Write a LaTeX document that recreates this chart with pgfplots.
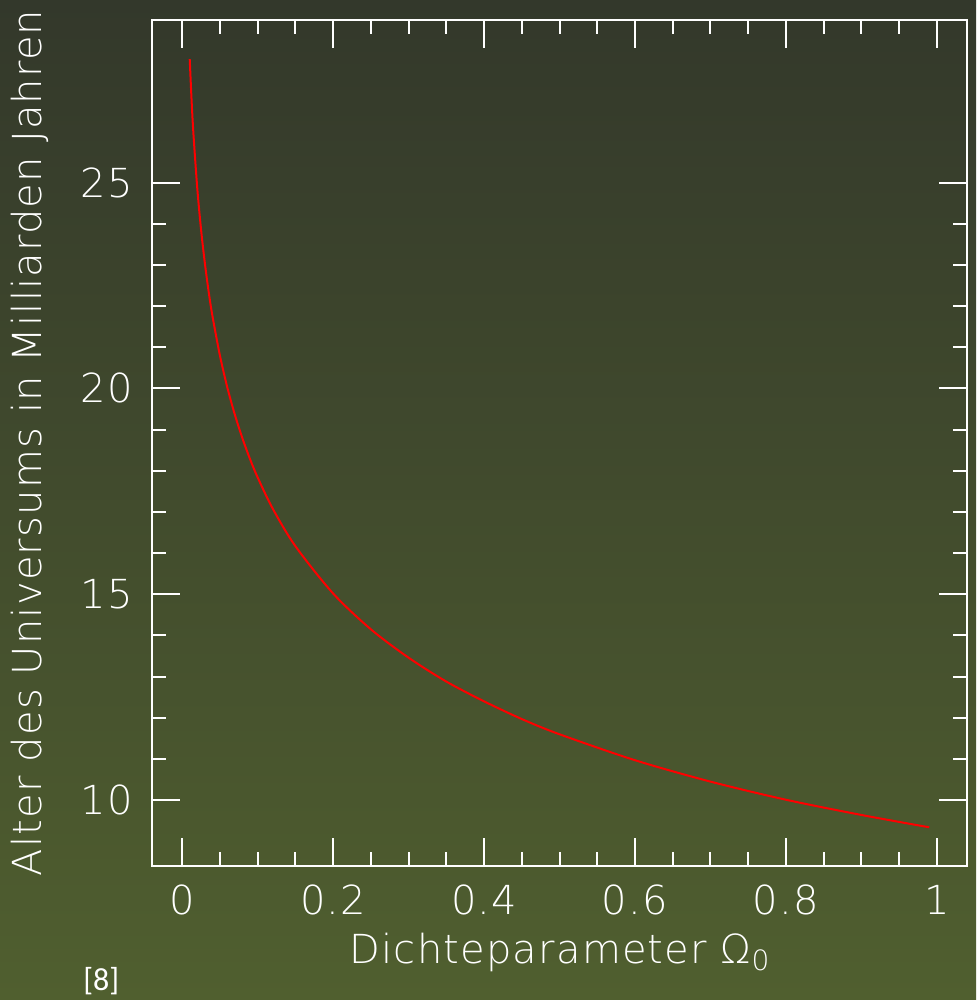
\documentclass[border=0pt]{standalone}
\usepackage{fontspec}
\setmainfont{DejaVu Sans ExtraLight}[LetterSpace=3]
\newfontfamily\refont{Carlito}
\usepackage{pgfplots}
\pgfplotsset{compat=1.18}
\definecolor{bgtop}{RGB}{51,56,43}
\definecolor{bgbot}{RGB}{80,95,47}
\begin{document}
\begin{tikzpicture}
\shade[top color=bgtop, bottom color=bgbot] (-76pt,-67pt) rectangle (412pt,433pt);
\begin{axis}[
  at={(0,0)}, anchor=south west,
  scale only axis, width=407.5pt, height=423pt,
  xmin=-0.04, xmax=1.04, ymin=8.4, ymax=28.95,
  axis line style={white, line width=1pt},
  every tick/.style={white, line width=1pt},
  tick align=inside,
  major tick length=14pt, minor tick length=7pt,
  xtick={0,0.2,0.4,0.6,0.8,1}, minor x tick num=3,
  ytick={10,15,20,25}, minor y tick num=4,
  xticklabels={0,0.2,0.4,0.6,0.8,1},
  /pgf/number format/assume math mode=true,
  tick label style={white, font=\fontsize{20}{24}\selectfont},
  xticklabel style={yshift=-6pt},
  yticklabel style={xshift=-6pt},
  label style={white, font=\fontsize{20}{24}\selectfont},
  xlabel={Dichteparameter Ω\raisebox{-0.3ex}{\fontsize{14}{16}\selectfont 0}},
  ylabel={Alter des Universums in Milliarden Jahren},
  xlabel style={yshift=-2pt},
  ylabel style={yshift=9pt},
]
\addplot[red, line width=1pt, smooth] coordinates {
(0.01,28.00) (0.0125,26.98) (0.015,26.16) (0.02,24.86) (0.025,23.86)
(0.03,23.05) (0.035,22.36) (0.04,21.77) (0.05,20.80) (0.06,20.01)
(0.07,19.35) (0.08,18.78) (0.09,18.28) (0.10,17.84) (0.12,17.08)
(0.15,16.17) (0.20,15.02) (0.25,14.15) (0.30,13.46) (0.35,12.88)
(0.40,12.40) (0.45,11.97) (0.50,11.60) (0.60,10.97) (0.70,10.45)
(0.80,10.01) (0.90,9.64) (0.99,9.34)
};
\end{axis}
\node[white, font=\refont\fontsize{16}{18}\selectfont, anchor=base west, inner sep=0pt] at (-34.5pt,-62pt) {[8]};
\pgfresetboundingbox
\path[use as bounding box] (-76pt,-67pt) rectangle (412pt,433pt);
\end{tikzpicture}
\end{document}
